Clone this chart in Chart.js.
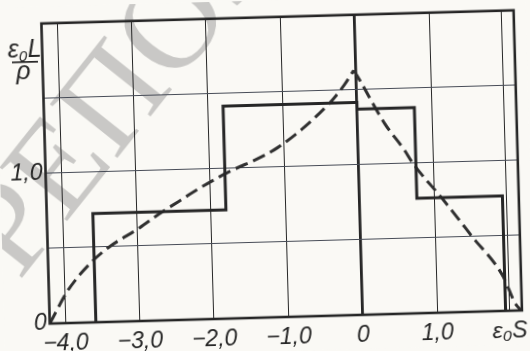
<!DOCTYPE html>
<html>
<head>
<meta charset="utf-8">
<script src="https://cdn.jsdelivr.net/npm/chart.js@4.4.1/dist/chart.umd.min.js"></script>
<style>
  html, body { margin: 0; padding: 0; background: #faf9f5; overflow: hidden; }
  #wrap { width: 530px; height: 351px; }
  canvas { display: block; transform: rotate(-1.6deg); transform-origin: 283.5px 166.75px; }
</style>
</head>
<body>
<div id="wrap"><canvas id="c" width="530" height="351"></canvas></div>
<script>
// Step profile: bin edges along ε0S and the height of each bin
const stepEdges = [-3.59, -1.80, 0, 0.77, 1.92];
const stepHeights = [0.725, 1.415, 1.371, 0.766];

// Dashed curve, rising branch up to the peak and falling branch after it
const riseX = [-4.21, -3.95, -3.63, -3.38, -2.97, -2.70, -2.43, -2.16, -1.82, -1.08, -0.40, -0.17, -0.03];
const riseY = [0, 0.22, 0.40, 0.50, 0.62, 0.71, 0.79, 0.87, 0.96, 1.13, 1.40, 1.53, 1.63];
const fallX = [-0.03, 0.05, 0.365, 0.62, 0.73, 1.11, 1.50, 1.90, 2.05, 2.13];
const fallY = [1.63, 1.56, 1.27, 1.09, 1.00, 0.76, 0.50, 0.23, 0.05, 0];

// Axis ticks and their labels
const xTicks = [-4, -3, -2, -1, 0, 1, 1.97];
const xTickLabels = ['−4,0', '−3,0', '−2,0', '−1,0', '0', '1,0', 'ε₀S'];
const yTicks = [0, 0.5, 1, 1.5, 2];
const yTickLabels = ['0', '', '1,0', '', ''];

const INK = '#262626';
const GRID = '#474c57';
const LABEL_FONT = "'Liberation Sans Narrow', 'Liberation Sans', 'DejaVu Sans Condensed', sans-serif";

const toPoints = (xs, ys) => xs.map((x, i) => ({ x, y: ys[i] }));

const stepPoints = [{ x: stepEdges[0], y: 0 }];
stepHeights.forEach((h, i) => {
  stepPoints.push({ x: stepEdges[i], y: h });
  stepPoints.push({ x: stepEdges[i + 1], y: h });
});
stepPoints.push({ x: stepEdges[stepEdges.length - 1], y: 0 });

// Paper background and the faint stamp lettering behind the plot
const paper = {
  id: 'paper',
  beforeDraw(chart) {
    const c = chart.ctx;
    c.save();
    c.fillStyle = '#faf9f5';
    c.fillRect(0, 0, chart.width, chart.height);
    c.translate(16, 274);
    c.rotate(-0.87);
    c.font = "132px 'Liberation Serif', 'DejaVu Serif', serif";
    c.fillStyle = 'rgba(120,120,120,0.38)';
    c.textBaseline = 'alphabetic';
    c.fillText('РЕПОЗИТОРИЙ', 0, 0);
    c.restore();
  }
};

// Frame around the plot area and the ε0L/ρ axis caption
const frame = {
  id: 'frame',
  afterDatasetsDraw(chart) {
    const { left, right, top, bottom } = chart.chartArea;
    const c = chart.ctx;
    c.save();
    c.strokeStyle = INK;
    c.lineWidth = 2.6;
    c.strokeRect(left, top, right - left, bottom - top);
    c.restore();
  },
  afterDraw(chart) {
    const c = chart.ctx;
    c.save();
    c.fillStyle = INK;
    c.textBaseline = 'alphabetic';
    c.font = "italic 25px " + LABEL_FONT;
    c.fillText('ε', 11, 50);
    c.font = "italic 15px " + LABEL_FONT;
    c.fillText('0', 22, 54);
    c.font = "italic 25px " + LABEL_FONT;
    c.fillText('L', 31, 50);
    c.fillRect(15, 54, 26, 1.7);
    c.fillText('ρ', 19, 72);
    c.restore();
  }
};

new Chart(document.getElementById('c'), {
  type: 'scatter',
  data: {
    datasets: [
      {
        data: stepPoints,
        showLine: true,
        borderColor: INK,
        borderWidth: 3,
        pointRadius: 0,
        tension: 0,
        borderJoinStyle: 'miter'
      },
      {
        data: toPoints(riseX, riseY),
        showLine: true,
        borderColor: '#303030',
        borderWidth: 3,
        borderDash: [13, 6],
        pointRadius: 0,
        cubicInterpolationMode: 'monotone'
      },
      {
        data: toPoints(fallX, fallY),
        showLine: true,
        borderColor: '#303030',
        borderWidth: 3,
        borderDash: [13, 6],
        pointRadius: 0,
        cubicInterpolationMode: 'monotone'
      }
    ]
  },
  options: {
    responsive: false,
    animation: false,
    devicePixelRatio: 1,
    layout: { padding: { top: 16.5, right: 8.5, left: 0, bottom: 0 } },
    plugins: { legend: { display: false }, tooltip: { enabled: false } },
    scales: {
      x: {
        type: 'linear',
        min: -4.21,
        max: 2.14,
        afterBuildTicks: s => { s.ticks = xTicks.map(v => ({ value: v })); },
        afterFit: s => { s.height = 34; },
        border: { display: false },
        grid: {
          color: INK,
          lineWidth: ctx => (ctx.tick && ctx.tick.value === 0 ? 2.8 : 1),
          drawTicks: false
        },
        ticks: {
          callback: (v, i) => xTickLabels[i],
          font: { family: LABEL_FONT, size: 23, style: 'italic' },
          color: INK,
          padding: 7,
          maxRotation: 0,
          autoSkip: false
        }
      },
      y: {
        min: 0,
        max: 2,
        afterBuildTicks: s => { s.ticks = yTicks.map(v => ({ value: v })); },
        afterFit: s => { s.width = 45.5; },
        border: { display: false },
        grid: { color: GRID, lineWidth: 1, drawTicks: false },
        ticks: {
          callback: (v, i) => yTickLabels[i],
          font: { family: LABEL_FONT, size: 23, style: 'italic' },
          color: INK,
          padding: 3,
          autoSkip: false
        }
      }
    }
  },
  plugins: [paper, frame]
});
</script>
</body>
</html>
